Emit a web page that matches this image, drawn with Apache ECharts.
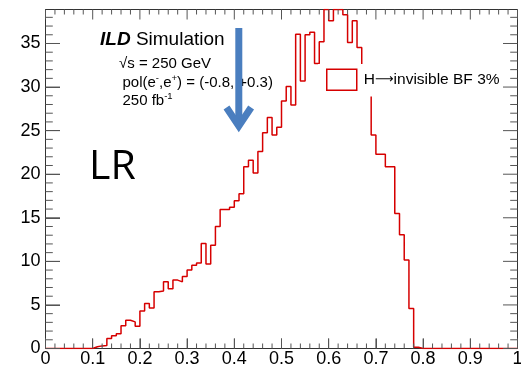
<!DOCTYPE html>
<html>
<head>
<meta charset="utf-8">
<script src="https://cdn.jsdelivr.net/npm/echarts@6/dist/echarts.min.js"></script>
<style>
  html, body { margin: 0; padding: 0; background: #fff; }
  #chart { width: 521px; height: 370px; }
</style>
</head>
<body>
<div id="chart"></div>
<script>
// histogram: 100 bins of width 0.01 from 0 to 1
const binWidth = 0.01;
const counts = [
  0, 0, 0, 0, 0, 0, 0, 0, 0, 0,
  0.2, 0.3, 0.35, 1.15, 1.45, 1.7, 2.6, 3.25, 3.05, 2.55,
  4.3, 5.15, 4.65, 6.5, 6.6, 7.65, 6.85, 7.85, 7.65, 8.25,
  9.0, 9.55, 9.8, 12.05, 9.7, 11.85, 14.0, 15.95, 15.95, 16.2,
  16.95, 17.75, 20.85, 21.6, 20.15, 22.6, 24.75, 26.5, 24.5, 25.4,
  28.4, 30.05, 27.95, 36.05, 30.7, 36.0, 36.3, 32.7, 35.2, 38.9,
  37.6, 38.9, 38.9, 38.3, 35.1, 37.6, 34.55, 31.5, 30.5, 24.5,
  22.3, 22.3, 20.85, 20.85, 15.5, 13.05, 10.15, 4.6, 0.15, 0,
  0, 0, 0, 0, 0, 0, 0, 0, 0, 0,
  0, 0, 0, 0, 0, 0, 0, 0, 0, 0
];
const seriesName = 'H\u2192invisible BF 3%';
const xRange = [0, 1];
const yRange = [0, 38.9];
const xMajor = 0.1, xMinor = 0.02;
const yMajor = 5, yMinor = 1;

const RED = '#d60000';
const AXIS = '#333';
const TICK = '#555';
const FONT = '"Liberation Sans", Arial, sans-serif';
const GRID = { left: 45.5, right: 3.5, top: 9.5, bottom: 21.5 };

// step points at the low edge of each bin, plus the closing upper edge
const histData = counts.map((c, i) => [+(i * binWidth).toFixed(2), c]);
histData.push([xRange[1], counts[counts.length - 1]]);

const chart = echarts.init(document.getElementById('chart'), null, { renderer: 'canvas' });

const supRich = {
  m: { fontSize: 15, lineHeight: 17, verticalAlign: 'bottom', fontFamily: FONT, fill: '#000' },
  s: { fontSize: 9.5, lineHeight: 10, verticalAlign: 'top', fontFamily: FONT, fill: '#000' }
};

const labels = [
  {
    id: 'ild', type: 'text', x: 100, y: 39.5, z: 10,
    style: {
      text: '{b|ILD} Simulation', verticalAlign: 'middle',
      fontSize: 19, fontFamily: FONT, fill: '#000',
      rich: { b: { fontSize: 19, fontFamily: FONT, fontWeight: 'bold', fontStyle: 'italic', fill: '#000' } }
    }
  },
  {
    id: 'sqrts', type: 'text', x: 119, y: 63.8, z: 10,
    style: { text: '\u221As = 250 GeV', verticalAlign: 'middle', fontSize: 15, fontFamily: FONT, fill: '#000' }
  },
  {
    id: 'pol', type: 'text', x: 122.5, y: 73, z: 10,
    style: {
      text: '{m|pol(e}{s|-}{m|,e}{s|+}{m|) = (-0.8, +0.3)}', verticalAlign: 'top',
      fontSize: 15, fontFamily: FONT, fill: '#000', rich: supRich
    }
  },
  {
    id: 'lumi', type: 'text', x: 122.5, y: 91.5, z: 10,
    style: {
      text: '{m|250 fb}{s|-1}', verticalAlign: 'top',
      fontSize: 15, fontFamily: FONT, fill: '#000', rich: supRich
    }
  },
  {
    id: 'lr', type: 'text', x: 89, y: 167, z: 10,
    style: { text: 'LR', verticalAlign: 'middle', fontSize: 41, fontFamily: '"Open Sans", "Noto Sans", sans-serif', fill: '#000' }
  },
  // blue arrow
  {
    id: 'arrowShaft', type: 'line', z: 20,
    shape: { x1: 238.8, y1: 28, x2: 238.8, y2: 125 },
    style: { stroke: '#4a7ebf', lineWidth: 7 }
  },
  {
    id: 'arrowHead', type: 'polyline', z: 20,
    shape: { points: [[226.5, 107.5], [238.8, 126], [251.1, 107.5]] },
    style: { stroke: '#4a7ebf', lineWidth: 7, fill: null, lineJoin: 'miter' }
  }
];

const option = {
  animation: false,
  grid: Object.assign({
    outerBoundsMode: 'none',
    show: true, backgroundColor: 'transparent', borderColor: AXIS, borderWidth: 1
  }, GRID),
  xAxis: {
    type: 'value', min: xRange[0], max: xRange[1], interval: xMajor,
    axisLine: { show: true, onZero: false, lineStyle: { color: AXIS, width: 1 } },
    axisTick: { show: true, inside: true, length: 10, lineStyle: { color: TICK } },
    splitLine: { show: false },
    axisLabel: { fontSize: 18, fontFamily: FONT, color: '#000', margin: 2 }
  },
  yAxis: {
    type: 'value', min: yRange[0], max: yRange[1], interval: yMajor,
    axisLine: { show: true, lineStyle: { color: AXIS, width: 1 } },
    axisTick: { show: true, inside: true, length: 14.5, lineStyle: { color: TICK } },
    splitLine: { show: false },
    axisLabel: { fontSize: 18, fontFamily: FONT, color: '#000', margin: 5, showMaxLabel: false }
  },
  legend: {
    show: true,
    left: 318, top: 64,
    orient: 'vertical',
    padding: [4.5, 9, 5.5, 8],
    backgroundColor: '#fff',
    itemWidth: 30, itemHeight: 21,
    icon: 'rect',
    itemStyle: { color: '#fff', borderColor: RED, borderWidth: 1.5 },
    formatter: () => '{t|H}{a|\u27F6}{t|invisible BF 3%}',
    textStyle: {
      fontSize: 15.5, fontFamily: FONT, color: '#000', padding: [0, 0, 0, 2],
      rich: {
        t: { fontSize: 15.5, fontFamily: FONT, color: '#000' },
        a: { fontSize: 13, fontFamily: '"DejaVu Sans", sans-serif', color: '#000' }
      }
    },
    data: [seriesName]
  },
  series: [{
    name: seriesName,
    type: 'line',
    step: 'end',
    symbol: 'none',
    clip: true,
    lineStyle: { color: RED, width: 1.5 },
    itemStyle: { color: RED },
    data: histData
  }],
  graphic: labels
};

chart.setOption(option);

// ROOT-style inward ticks on all four frame sides, placed through the axis scales
function toPixel(x, y) {
  let p = null;
  try { p = chart.convertToPixel({ xAxisIndex: 0, yAxisIndex: 0 }, [x, y]); } catch (e) { p = null; }
  if (p && isFinite(p[0]) && isFinite(p[1])) return p;
  // fallback: same linear mapping as the grid
  const w = 521 - GRID.left - GRID.right, h = 370 - GRID.top - GRID.bottom;
  return [
    GRID.left + (x - xRange[0]) / (xRange[1] - xRange[0]) * w,
    370 - GRID.bottom - (y - yRange[0]) / (yRange[1] - yRange[0]) * h
  ];
}
const ticks = [];
const tickLine = (x1, y1, x2, y2) => ({
  id: 'tk' + ticks.length, type: 'line', z: 5, silent: true,
  shape: { x1, y1, x2, y2 },
  style: { stroke: TICK, lineWidth: 1 }
});
for (let k = 0; k * xMinor <= xRange[1] + 1e-9; k++) {
  const v = +(k * xMinor).toFixed(2);
  const len = k % 5 === 0 ? 10 : 5;
  const b = toPixel(v, yRange[0]);
  const t = toPixel(v, yRange[1]);
  ticks.push(tickLine(b[0], b[1], b[0], b[1] - len));
  ticks.push(tickLine(t[0], t[1], t[0], t[1] + len));
}
for (let k = 0; k * yMinor < yRange[1]; k++) {
  const v = k * yMinor;
  const len = k % 5 === 0 ? 14.5 : 7.3;
  const l = toPixel(xRange[0], v);
  const r = toPixel(xRange[1], v);
  ticks.push(tickLine(l[0], l[1], l[0] + len, l[1]));
  ticks.push(tickLine(r[0], r[1], r[0] - len, r[1]));
}
chart.setOption({ graphic: ticks });
</script>
</body>
</html>
